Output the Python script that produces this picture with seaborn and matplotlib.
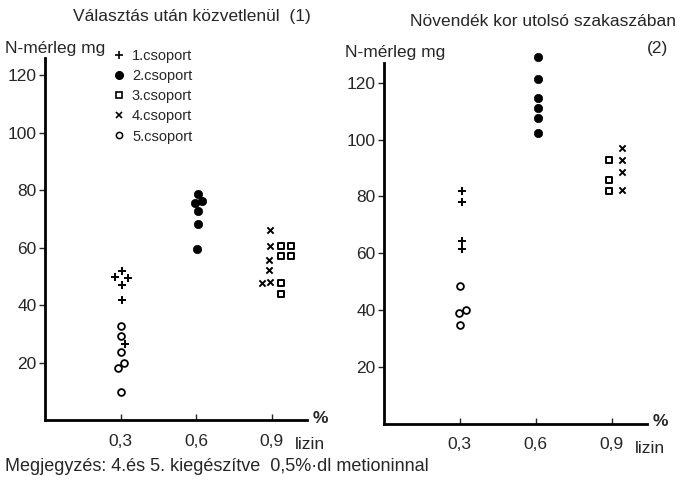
import matplotlib
matplotlib.use("Agg")
import matplotlib.pyplot as plt
import pandas as pd
import seaborn as sns
from matplotlib.lines import Line2D

sns.set_style("ticks")
plt.rcParams["font.family"] = ["Liberation Sans", "DejaVu Sans"]
plt.rcParams["axes.unicode_minus"] = False

# values: lizin level (%) and N-merleg (mg)
GROUPS = ["1.csoport", "2.csoport", "3.csoport", "4.csoport", "5.csoport"]

# panel 1: Választás után közvetlenül
p1_g1_x = [0.305, 0.278, 0.331, 0.305, 0.305, 0.316]
p1_g1_y = [51.7, 49.6, 49.4, 46.9, 41.7, 26.5]
p1_g2_x = [0.608, 0.596, 0.622, 0.608, 0.608, 0.605]
p1_g2_y = [78.5, 75.5, 76.4, 72.9, 68.3, 59.6]
p1_g3_x = [0.937, 0.977, 0.937, 0.977, 0.937, 0.937]
p1_g3_y = [60.7, 60.7, 57.1, 57.1, 47.8, 43.8]
p1_g4_x = [0.893, 0.893, 0.889, 0.889, 0.863, 0.893]
p1_g4_y = [66.0, 60.7, 55.6, 52.3, 47.8, 48.2]
p1_g5_x = [0.300, 0.302, 0.302, 0.290, 0.313, 0.300]
p1_g5_y = [32.8, 29.3, 23.6, 18.2, 19.8, 9.9]

# panel 2: Növendék kor utolsó szakaszában
p2_g1_x = [0.31, 0.31, 0.31, 0.31]
p2_g1_y = [82.0, 77.9, 64.4, 61.3]
p2_g2_x = [0.61, 0.61, 0.61, 0.61, 0.61, 0.61]
p2_g2_y = [129.0, 121.2, 114.7, 111.3, 107.8, 102.4]
p2_g3_x = [0.888, 0.888, 0.888]
p2_g3_y = [92.8, 85.7, 82.0]
p2_g4_x = [0.94, 0.94, 0.94, 0.94]
p2_g4_y = [96.9, 93.0, 88.7, 82.2]
p2_g5_x = [0.302, 0.298, 0.326, 0.302]
p2_g5_y = [48.4, 38.8, 40.0, 34.7]

x_ticks = [0.3, 0.6, 0.9]
x_ticklabels = ["0,3", "0,6", "0,9"]
y_ticks = [20, 40, 60, 80, 100, 120]

rows = []
panel_data = {
    1: [(p1_g1_x, p1_g1_y), (p1_g2_x, p1_g2_y), (p1_g3_x, p1_g3_y), (p1_g4_x, p1_g4_y), (p1_g5_x, p1_g5_y)],
    2: [(p2_g1_x, p2_g1_y), (p2_g2_x, p2_g2_y), (p2_g3_x, p2_g3_y), (p2_g4_x, p2_g4_y), (p2_g5_x, p2_g5_y)],
}
for panel, groups in panel_data.items():
    for g, (xs, ys) in zip(GROUPS, groups):
        for xv, yv in zip(xs, ys):
            rows.append({"panel": panel, "group": g, "lizin": xv, "N": yv})
df = pd.DataFrame(rows)

marker_kws = {
    "1.csoport": dict(marker="+", s=40, color="black", linewidth=1.4),
    "2.csoport": dict(marker="o", s=36, color="black", edgecolor="black", linewidth=0.5),
    "3.csoport": dict(marker="s", s=22, color="black", facecolor="white", edgecolor="black", linewidth=1.4),
    "4.csoport": dict(marker="x", s=20, color="black", linewidth=1.4),
    "5.csoport": dict(marker="o", s=24, color="black", facecolor="white", edgecolor="black", linewidth=1.3),
}

fig = plt.figure(figsize=(6.81, 4.90), dpi=100)
W, H = 681.0, 490.0
ax1 = fig.add_axes([45 / W, 1 - 420 / H, 262 / W, 362 / H])
ax2 = fig.add_axes([384 / W, 1 - 423.5 / H, 263 / W, 360.5 / H])

FS = 12.5
for ax, panel, ytop in [(ax1, 1, 126), (ax2, 2, 127)]:
    sub = df[df["panel"] == panel]
    for g in GROUPS:
        d = sub[sub["group"] == g]
        sns.scatterplot(data=d, x="lizin", y="N", ax=ax, legend=False, clip_on=False, **marker_kws[g])
    ax.set_xlim(0, 1.04)
    ax.set_ylim(0, ytop)
    ax.set_xticks(x_ticks)
    ax.set_xticklabels(x_ticklabels)
    ax.set_yticks(y_ticks)
    ax.set_xlabel("")
    ax.set_ylabel("")
    sns.despine(ax=ax)
    for side in ["left", "bottom"]:
        ax.spines[side].set_linewidth(2)
        ax.spines[side].set_color("black")
    ax.tick_params(axis="y", direction="out", length=4, width=1, pad=2, labelsize=FS)
    ax.tick_params(axis="x", direction="in", length=4, width=1, pad=10, labelsize=FS)
    ax.text(1.02, 0.005, "%", transform=ax.transAxes, fontsize=FS, ha="left", va="center",
            fontweight="bold")
    ax.text(0.952, -0.068, "lizin", transform=ax.transAxes, fontsize=FS, ha="left", va="center")

fig.text(192 / W, 1 - 16 / H, "Választás után közvetlenül  (1)", fontsize=FS, ha="center", va="center")
fig.text(676 / W, 1 - 22 / H, "Növendék kor utolsó szakaszában", fontsize=FS, ha="right", va="center")
fig.text(668 / W, 1 - 49 / H, "(2)", fontsize=FS, ha="right", va="center")
fig.text(5 / W, 1 - 48 / H, "N-mérleg mg", fontsize=FS, ha="left", va="center")
fig.text(345 / W, 1 - 52 / H, "N-mérleg mg", fontsize=FS, ha="left", va="center")
fig.text(5 / W, 1 - 466 / H, "Megjegyzés: 4.és 5. kiegészítve  0,5%·dl metioninnal",
         fontsize=13, ha="left", va="center")

handles = [
    Line2D([], [], linestyle="none", marker="+", markersize=6, color="black", markeredgewidth=1.2),
    Line2D([], [], linestyle="none", marker="o", markersize=5.5, color="black"),
    Line2D([], [], linestyle="none", marker="s", markersize=4.5, markerfacecolor="white",
           markeredgecolor="black", markeredgewidth=1.2),
    Line2D([], [], linestyle="none", marker="x", markersize=4.5, color="black", markeredgewidth=1.2),
    Line2D([], [], linestyle="none", marker="o", markersize=4.5, markerfacecolor="white",
           markeredgecolor="black", markeredgewidth=1.1),
]
fig.legend(handles, GROUPS, loc="upper left", bbox_to_anchor=(113 / W, 1 - 49 / H),
           frameon=False, fontsize=10.5, handlelength=0.8, handletextpad=0.5,
           labelspacing=0.42, borderpad=0, borderaxespad=0)

fig.savefig("out.png", dpi=100)
